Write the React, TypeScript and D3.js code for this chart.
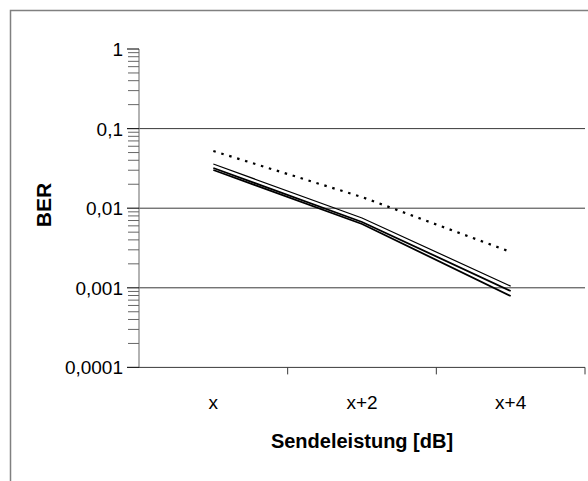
import React from "react";
import * as d3 from "d3";

const categories: string[] = ["x", "x+2", "x+4"];
const seriesDotted: number[] = [0.0523, 0.0138, 0.00282];
const seriesA: number[] = [0.0359, 0.00753, 0.00105];
const seriesB: number[] = [0.032, 0.00671, 0.000912];
const seriesC: number[] = [0.0302, 0.00633, 0.000789];
const yTickValues: number[] = [1, 0.1, 0.01, 0.001, 0.0001];
const yTickLabels: string[] = ["1", "0,1", "0,01", "0,001", "0,0001"];
const gridValues: number[] = [0.1, 0.01, 0.001];
const yTitle = "BER";
const xTitle = "Sendeleistung [dB]";

const W = 588;
const H = 481;
const left = 139;
const right = 585;
const top = 49;
const bottom = 367.4;

export default function App() {
  const x = d3.scaleBand<string>().domain(categories).range([left, right]);
  const y = d3.scaleLog().domain([0.0001, 1]).range([bottom, top]);
  const cx = (c: string) => (x(c) as number) + x.bandwidth() / 2;

  const line = d3
    .line<number>()
    .x((_, i) => cx(categories[i]))
    .y((v) => y(v));

  const minor: number[] = [];
  for (let e = -4; e < 0; e++) {
    for (let m = 2; m <= 9; m++) minor.push(m * Math.pow(10, e));
  }

  const font = "'Liberation Sans', Arial, sans-serif";
  const solid = [seriesA, seriesB, seriesC];

  return (
    <svg
      width={W}
      height={H}
      style={{ position: "absolute", left: 0, top: 0, background: "#fff" }}
    >
      <rect x={0} y={0} width={W} height={H} fill="#fff" />
      {/* outer border */}
      <rect x={10.5} y={10.5} width={700} height={700} fill="none" stroke="#808080" strokeWidth={1.5} />

      {/* gridlines */}
      {gridValues.map((g) => (
        <line key={g} x1={left} x2={right} y1={y(g)} y2={y(g)} stroke="#3a3a3a" strokeWidth={1} />
      ))}

      {/* y axis */}
      <line x1={left} x2={left} y1={top} y2={bottom} stroke="#808080" strokeWidth={1.2} />
      {minor.map((m) => (
        <line key={m} x1={left - 11} x2={left} y1={y(m)} y2={y(m)} stroke="#666" strokeWidth={1} />
      ))}
      {yTickValues.map((t) => (
        <line key={"M" + t} x1={left - 12} x2={left} y1={y(t)} y2={y(t)} stroke="#222" strokeWidth={1.2} />
      ))}
      {yTickValues.map((t, i) => (
        <text
          key={"L" + t}
          x={123}
          y={y(t)}
          dy={7}
          textAnchor="end"
          fontFamily={font}
          fontSize={19}
          fill="#000"
        >
          {yTickLabels[i]}
        </text>
      ))}

      {/* x axis */}
      <line x1={left} x2={right} y1={bottom} y2={bottom} stroke="#3a3a3a" strokeWidth={1} />
      {categories.map((c) => (
        <line
          key={"t" + c}
          x1={(x(c) as number) + x.bandwidth()}
          x2={(x(c) as number) + x.bandwidth()}
          y1={bottom}
          y2={bottom + 7}
          stroke="#3a3a3a"
          strokeWidth={1}
        />
      ))}
      {categories.map((c) => (
        <text
          key={"xl" + c}
          x={cx(c)}
          y={409}
          textAnchor="middle"
          fontFamily={font}
          fontSize={19}
          fill="#000"
        >
          {c}
        </text>
      ))}

      {/* series */}
      <path
        d={line(seriesDotted) || ""}
        fill="none"
        stroke="#000"
        strokeWidth={2.2}
        strokeDasharray="2.5,5.8"
      />
      {solid.map((s, i) => (
        <path key={i} d={line(s) || ""} fill="none" stroke="#000" strokeWidth={i === 0 ? 1.2 : 1.8} />
      ))}

      {/* titles */}
      <text
        x={362}
        y={448}
        textAnchor="middle"
        fontFamily={font}
        fontSize={20}
        fontWeight="bold"
        fill="#000"
      >
        {xTitle}
      </text>
      <text
        transform={`translate(51,205) rotate(-90)`}
        textAnchor="middle"
        fontFamily={font}
        fontSize={21}
        fontWeight="bold"
        fill="#000"
      >
        {yTitle}
      </text>
    </svg>
  );
}
